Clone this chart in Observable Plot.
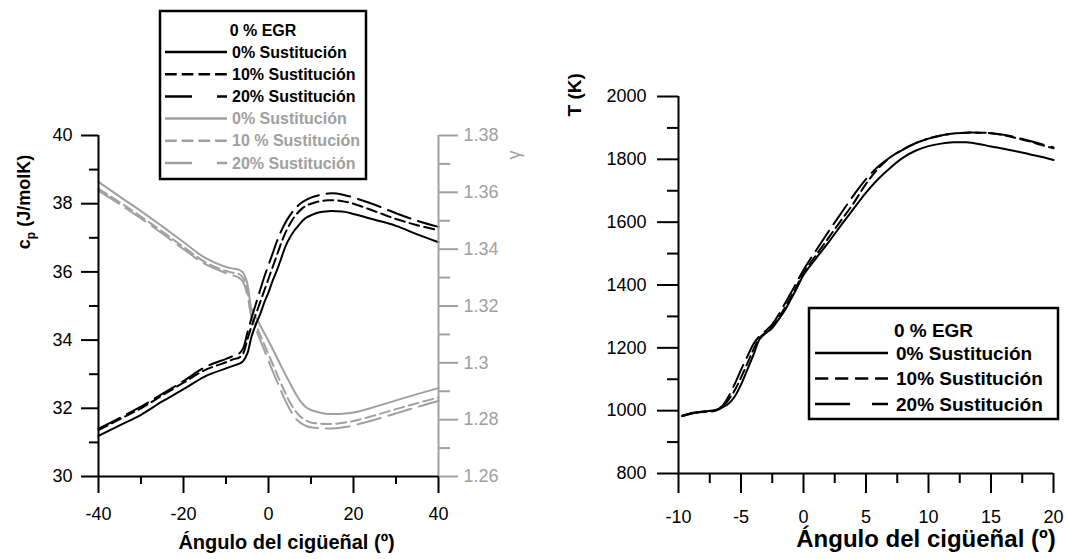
<!DOCTYPE html>
<html><head><meta charset="utf-8">
<script src="https://cdn.jsdelivr.net/npm/d3@7"></script>
<script src="https://cdn.jsdelivr.net/npm/@observablehq/plot@0.6"></script>
<style>
body{margin:0;background:#fff;}
#wrap{position:relative;width:1066px;height:559px;overflow:hidden;background:#fff;}
#wrap svg{position:absolute;}
</style></head><body><div id="wrap"></div>
<script>
// ---------- data ----------
const anglesL = [-40,-35,-30,-25,-20,-15,-10,-8,-7,-6,-5,-4,-3,-2,-1,0,1,2,3,4,5,6,7,8,9,10,12,14,16,18,20,25,30,35,40];
const cp0  = [31.19,31.50,31.81,32.20,32.56,32.93,33.17,33.26,33.30,33.38,33.60,34.10,34.45,34.75,35.10,35.40,35.75,36.05,36.40,36.75,37.00,37.20,37.35,37.50,37.60,37.66,37.75,37.78,37.78,37.76,37.70,37.53,37.35,37.10,36.87];
const cp10 = [31.36,31.68,32.00,32.38,32.75,33.12,33.35,33.45,33.48,33.60,34.00,34.40,34.75,35.10,35.45,35.80,36.15,36.50,36.85,37.15,37.40,37.60,37.75,37.87,37.95,38.00,38.07,38.10,38.10,38.06,38.00,37.78,37.55,37.37,37.22];
const cp20 = [31.40,31.72,32.05,32.42,32.80,33.20,33.45,33.55,33.60,33.75,34.20,34.65,35.05,35.45,35.85,36.20,36.55,36.90,37.20,37.45,37.65,37.82,37.95,38.05,38.12,38.18,38.25,38.30,38.30,38.25,38.18,37.97,37.72,37.50,37.32];
const gam0  = [1.3637,1.3585,1.3534,1.3480,1.3425,1.3370,1.3337,1.3331,1.3328,1.3318,1.3280,1.3190,1.3160,1.3133,1.3105,1.3078,1.3048,1.3018,1.2988,1.2958,1.2930,1.2902,1.2876,1.2856,1.2842,1.2834,1.2825,1.2820,1.2820,1.2822,1.2825,1.2845,1.2868,1.2890,1.2911];
const gam10 = [1.3612,1.3565,1.3515,1.3462,1.3408,1.3355,1.3323,1.3316,1.3313,1.3300,1.3255,1.3170,1.3135,1.3100,1.3065,1.3030,1.2995,1.2960,1.2925,1.2893,1.2862,1.2838,1.2818,1.2805,1.2796,1.2790,1.2786,1.2785,1.2786,1.2790,1.2795,1.2815,1.2837,1.2858,1.2878];
const gam20 = [1.3606,1.3558,1.3508,1.3455,1.3400,1.3348,1.3316,1.3306,1.3300,1.3285,1.3240,1.3160,1.3120,1.3082,1.3045,1.3008,1.2970,1.2935,1.2900,1.2866,1.2837,1.2812,1.2795,1.2784,1.2777,1.2773,1.2770,1.2769,1.2770,1.2774,1.2780,1.2800,1.2822,1.2845,1.2866];

const anglesR = [-9.7,-9,-8,-7,-6.5,-6,-5.5,-5,-4.5,-4,-3.5,-3,-2.5,-2,-1.5,-1,-0.5,0,1,2,3,4,5,6,7,8,9,10,11,12,13,14,15,16,17,18,19,20];
const T0  = [983,990,997,1002,1010,1022,1045,1083,1130,1178,1228,1247,1263,1290,1319,1355,1393,1432,1485,1536,1590,1642,1694,1738,1775,1806,1828,1842,1850,1854,1854,1849,1841,1834,1826,1817,1808,1798];
const T10 = [983,991,996,1000,1012,1035,1065,1105,1150,1195,1232,1250,1268,1295,1327,1362,1400,1440,1495,1550,1605,1660,1722,1772,1808,1832,1852,1866,1876,1882,1885,1885,1883,1877,1868,1858,1846,1835];
const T20 = [984,992,997,1002,1015,1045,1085,1130,1172,1212,1238,1255,1275,1305,1340,1375,1412,1448,1510,1570,1628,1685,1737,1778,1808,1832,1852,1866,1876,1882,1885,1885,1883,1878,1870,1860,1849,1838];

const seriesLabels = ["0% Sustitución","10% Sustitución","20% Sustitución"];
const graySeriesLabels = ["0% Sustitución","10 % Sustitución","20% Sustitución"];
const legendTitle = "0 % EGR";
const xTitle = "Ángulo del cigüeñal (º)";
const tTitle = "T (K)";
const gammaTitle = "γ";

const xTicksL = [-40,-20,0,20,40], xMinorL = [-30,-10,10,30];
const cpTicks = [30,32,34,36,38,40], cpMinor = [31,33,35,37,39];
const gamTicks = [1.26,1.28,1.30,1.32,1.34,1.36,1.38], gamMinor = [1.27,1.29,1.31,1.33,1.35,1.37];
const xTicksR = [-10,-5,0,5,10,15,20], xMinorR = [-7.5,-2.5,2.5,7.5,12.5,17.5];
const TTicks = [800,1000,1200,1400,1600,1800,2000], TMinor = [900,1100,1300,1500,1700,1900];

// ---------- styles ----------
const FONT = "'Liberation Sans', Arial, Helvetica, sans-serif";
const GRAY = "#a0a0a0";
const plotDash = [null, "10,5", "24,8"];
const G0 = 1.26, GSPAN = 0.12, CP0 = 30, CPSPAN = 10;
const toCp = g => CP0 + (g - G0) / GSPAN * CPSPAN;
const fromCp = v => G0 + (v - CP0) / CPSPAN * GSPAN;
const rows = (xs, ys, f = d => d) => xs.map((a, i) => ({a, v: f(ys[i])}));
const plain = d => String(d);

const wrap = document.getElementById("wrap");

// ---------- left panel ----------
const cpSeries = [cp0, cp10, cp20];
const gamSeries = [gam0, gam10, gam20];
const left = Plot.plot({
  width: 560, height: 559,
  marginLeft: 98, marginRight: 122, marginTop: 135, marginBottom: 83,
  x: {domain: [-40, 40], label: null},
  y: {domain: [30, 40], label: null},
  style: {fontFamily: FONT, fontSize: "18px", background: "transparent", color: "black", overflow: "visible"},
  marks: [
    ...gamSeries.map((s, i) => Plot.line(rows(anglesL, s, toCp), {x: "a", y: "v", stroke: GRAY, strokeWidth: 2, strokeDasharray: plotDash[i], curve: "catmull-rom"})),
    ...cpSeries.map((s, i) => Plot.line(rows(anglesL, s), {x: "a", y: "v", stroke: "black", strokeWidth: 2, strokeDasharray: plotDash[i], curve: "catmull-rom"})),
    Plot.axisX({ticks: xTicksL, tickSize: 17, tickPadding: 14, tickFormat: plain, strokeWidth: 2, label: null}),
    Plot.axisX({ticks: xMinorL, tickSize: 8, fill: "none", strokeWidth: 2, label: null}),
    Plot.axisY({ticks: cpTicks, tickSize: 17, tickPadding: 9, tickFormat: plain, strokeWidth: 2, label: null}),
    Plot.axisY({ticks: cpMinor, tickSize: 9, fill: "none", strokeWidth: 2, label: null}),
    Plot.axisY({anchor: "right", ticks: gamTicks.map(toCp), tickSize: 19, tickPadding: 6, strokeWidth: 2, stroke: GRAY, fill: GRAY, label: null,
      tickFormat: v => String(Math.round(fromCp(v) * 100) / 100)}),
    Plot.axisY({anchor: "right", ticks: gamMinor.map(toCp), tickSize: 11, fill: "none", stroke: GRAY, strokeWidth: 2, label: null}),
    Plot.ruleX([40], {stroke: GRAY, strokeWidth: 2}),
    Plot.ruleX([-40], {stroke: "black", strokeWidth: 2}),
    Plot.ruleY([30], {stroke: "black", strokeWidth: 2}),
    Plot.text([xTitle], {text: d => d, frameAnchor: "bottom", dx: 18, dy: 66, lineAnchor: "middle", fontSize: 20, fontWeight: "bold"}),
    Plot.text([gammaTitle], {text: d => d, frameAnchor: "top-right", dx: 69, dy: 15, rotate: -90, fontSize: 18, fill: GRAY})
  ]
});
left.style.left = "0px"; left.style.top = "0px";
wrap.appendChild(left);

// cp title with subscript
{
  const t = d3.select(left).append("text")
    .attr("transform", "translate(30,202) rotate(-90)")
    .attr("text-anchor", "middle")
    .attr("font-family", FONT).attr("font-weight", "bold").attr("font-size", 18).attr("fill", "black");
  t.append("tspan").text("c");
  t.append("tspan").attr("font-size", 12).attr("dy", 5).text("p");
  t.append("tspan").attr("dy", -5).text(" (J/molK)");
}

// ---------- right panel ----------
const TSeries = [T0, T10, T20];
const right = Plot.plot({
  width: 506, height: 559,
  marginLeft: 118, marginRight: 13, marginTop: 96, marginBottom: 86,
  x: {domain: [-10, 20], label: null},
  y: {domain: [800, 2000], label: null},
  style: {fontFamily: FONT, fontSize: "18px", background: "transparent", color: "black", overflow: "visible"},
  marks: [
    ...TSeries.map((s, i) => Plot.line(rows(anglesR, s), {x: "a", y: "v", stroke: "black", strokeWidth: 2, strokeDasharray: plotDash[i], curve: "catmull-rom"})),
    Plot.axisX({ticks: xTicksR, tickSize: 20, tickPadding: 17, tickFormat: plain, strokeWidth: 2, label: null}),
    Plot.axisX({ticks: xMinorR, tickSize: 10, fill: "none", strokeWidth: 2, label: null}),
    Plot.axisY({ticks: TTicks, tickSize: 21, tickPadding: 11, tickFormat: plain, strokeWidth: 2, label: null}),
    Plot.axisY({ticks: TMinor, tickSize: 11, fill: "none", strokeWidth: 2, label: null}),
    Plot.ruleX([-10], {stroke: "black", strokeWidth: 2}),
    Plot.ruleY([800], {stroke: "black", strokeWidth: 2}),
    Plot.text([xTitle], {text: d => d, frameAnchor: "bottom", dx: 60, dy: 66, lineAnchor: "middle", fontSize: 24, fontWeight: "bold"}),
    Plot.text([tTitle], {text: d => d, frameAnchor: "top-left", dx: -104, dy: 20, rotate: -90, lineAnchor: "middle", fontSize: 19, fontWeight: "bold"})
  ]
});
right.style.left = "560px"; right.style.top = "0px";
wrap.appendChild(right);

// ---------- legends ----------
const overlay = d3.select(wrap).append("svg").attr("width", 1066).attr("height", 559)
  .style("left", "0px").style("top", "0px").style("pointer-events", "none");

function drawLegend(cfg) {
  const g = overlay.append("g").attr("font-family", FONT).attr("font-weight", "bold").attr("font-size", cfg.fontSize);
  g.append("rect").attr("x", cfg.x).attr("y", cfg.y).attr("width", cfg.w).attr("height", cfg.h)
    .attr("fill", "white").attr("stroke", "black").attr("stroke-width", 2.5);
  g.append("text").attr("x", cfg.x + cfg.w / 2).attr("y", cfg.titleY).attr("text-anchor", "middle")
    .attr("dominant-baseline", "central").attr("fill", "black").text(legendTitle);
  cfg.items.forEach((it, i) => {
    const y = cfg.rowY0 + i * cfg.rowStep;
    g.append("line").attr("x1", cfg.lx1).attr("x2", cfg.lx2).attr("y1", y).attr("y2", y)
      .attr("stroke", it.color).attr("stroke-width", 2.5).attr("stroke-dasharray", it.dash);
    g.append("text").attr("x", cfg.tx).attr("y", y).attr("dominant-baseline", "central")
      .attr("fill", it.color).text(it.label);
  });
}
const legDashL = [null, "11.7,5", "27,25"];
const legDashR = [null, "13.3,6.7", "35,22"];
drawLegend({
  x: 160, y: 11, w: 206, h: 168, fontSize: 16, titleY: 30.5, rowY0: 52, rowStep: 22.2,
  lx1: 165, lx2: 227, tx: 232,
  items: [
    ...seriesLabels.map((l, i) => ({label: l, color: "black", dash: legDashL[i]})),
    ...graySeriesLabels.map((l, i) => ({label: l, color: GRAY, dash: legDashL[i]}))
  ]
});
drawLegend({
  x: 809, y: 308, w: 249, h: 111, fontSize: 19, titleY: 330, rowY0: 353, rowStep: 25.5,
  lx1: 815, lx2: 888, tx: 896,
  items: seriesLabels.map((l, i) => ({label: l, color: "black", dash: legDashR[i]}))
});
</script></body></html>
